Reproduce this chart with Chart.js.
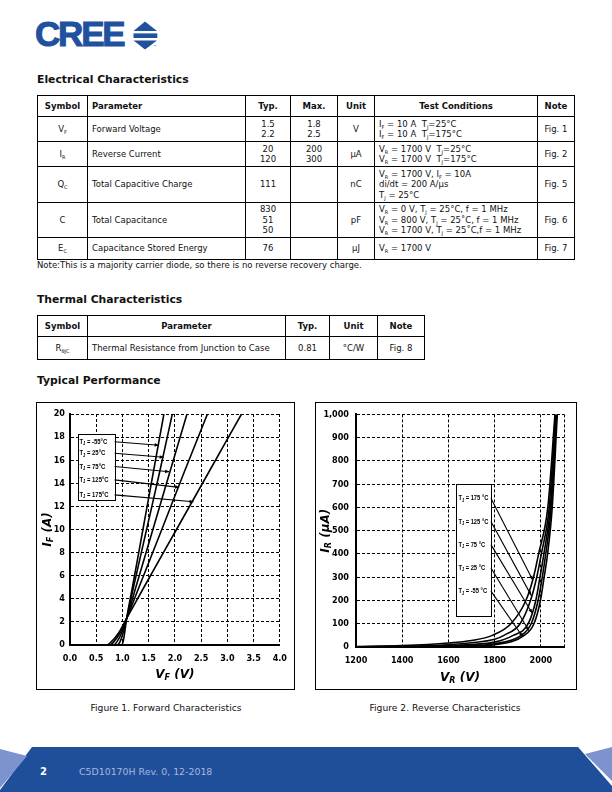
<!DOCTYPE html>
<html>
<head>
<meta charset="utf-8">
<script src="https://cdn.jsdelivr.net/npm/chart.js@4/dist/chart.umd.min.js"></script>
<style>
*{box-sizing:border-box;}
html,body{margin:0;padding:0;background:#fff;}
body{width:612px;height:792px;position:relative;overflow:hidden;font-family:"DejaVu Sans",Verdana,sans-serif;color:#111;}
.h{position:absolute;left:37px;margin:0;font-size:10.8px;font-weight:bold;line-height:13px;white-space:nowrap;color:#111;}
table.t{position:absolute;border-collapse:collapse;table-layout:fixed;font-size:8.5px;}
table.t td,table.t th{border:1px solid #000;padding:0 4px;line-height:10.5px;white-space:nowrap;overflow:hidden;}
table.t th{font-weight:bold;}
.c{text-align:center;}
.l{text-align:left;}
sub{font-size:5px;vertical-align:-1.5px;line-height:0;}
.frame{position:absolute;border:1px solid #000;}
.frame canvas{position:absolute;left:-1px;top:-1px;}
.cap{position:absolute;font-size:9.2px;white-space:nowrap;transform:translateX(-50%);line-height:11px;}
.note{position:absolute;left:37px;top:260px;font-size:8.5px;line-height:11px;white-space:nowrap;}
</style>
</head>
<body>
<!-- Logo -->
<div style="position:absolute;left:35px;top:14px;font-family:'Liberation Sans',Arial,sans-serif;font-weight:bold;font-size:35px;line-height:40px;letter-spacing:-2.2px;color:#1f519f;-webkit-text-stroke:1px #1f519f;">CREE</div>
<svg style="position:absolute;left:0;top:0" width="200" height="60">
  <polygon points="133.5,31 145,21.5 157,31" fill="#1f519f"/>
  <rect x="133.5" y="33.4" width="23.8" height="4.6" fill="#1f519f"/>
  <polygon points="133.5,40.6 157,40.6 145,49.5" fill="#1f519f"/>
</svg>
<div style="position:absolute;left:153px;top:44px;font-size:4px;line-height:5px;color:#1f519f;">™</div>

<div class="h" style="top:73px;">Electrical Characteristics</div>

<table class="t" style="left:37px;top:95px;width:537px;">
<colgroup><col style="width:50px"><col style="width:158px"><col style="width:45px"><col style="width:47px"><col style="width:37px"><col style="width:163px"><col style="width:37px"></colgroup>
<tr style="height:21px"><th class="c">Symbol</th><th class="l">Parameter</th><th class="c">Typ.</th><th class="c">Max.</th><th class="c">Unit</th><th class="c">Test Conditions</th><th class="c">Note</th></tr>
<tr style="height:25px"><td class="c">V<sub>F</sub></td><td>Forward Voltage</td><td class="c">1.5<br>2.2</td><td class="c">1.8<br>2.5</td><td class="c">V</td><td>I<sub>F</sub> = 10 A&nbsp; T<sub>J</sub>=25°C<br>I<sub>F</sub> = 10 A&nbsp; T<sub>J</sub>=175°C</td><td class="c">Fig. 1</td></tr>
<tr style="height:25px"><td class="c">I<sub>R</sub></td><td>Reverse Current</td><td class="c">20<br>120</td><td class="c">200<br>300</td><td class="c">µA</td><td>V<sub>R</sub> = 1700 V&nbsp; T<sub>J</sub>=25°C<br>V<sub>R</sub> = 1700 V&nbsp; T<sub>J</sub>=175°C</td><td class="c">Fig. 2</td></tr>
<tr style="height:36px"><td class="c">Q<sub>C</sub></td><td>Total Capacitive Charge</td><td class="c">111</td><td class="c"></td><td class="c">nC</td><td>V<sub>R</sub> = 1700 V, I<sub>F</sub> = 10A<br>di/dt = 200 A/µs<br>T<sub>J</sub> = 25°C</td><td class="c">Fig. 5</td></tr>
<tr style="height:35px"><td class="c">C</td><td>Total Capacitance</td><td class="c">830<br>51<br>50</td><td class="c"></td><td class="c">pF</td><td>V<sub>R</sub> = 0 V, T<sub>J</sub> = 25°C, f = 1 MHz<br>V<sub>R</sub> = 800 V, T<sub>J</sub> = 25˚C, f = 1 MHz<br>V<sub>R</sub> = 1700 V, T<sub>J</sub> = 25˚C,f = 1 MHz</td><td class="c">Fig. 6</td></tr>
<tr style="height:22px"><td class="c">E<sub>C</sub></td><td>Capacitance Stored Energy</td><td class="c">76</td><td class="c"></td><td class="c">µJ</td><td>V<sub>R</sub> = 1700 V</td><td class="c">Fig. 7</td></tr>
</table>
<div class="note">Note:This is a majority carrier diode, so there is no reverse recovery charge.</div>

<div class="h" style="top:293px;">Thermal Characteristics</div>
<table class="t" style="left:37px;top:315px;width:387px;">
<colgroup><col style="width:50px"><col style="width:198px"><col style="width:44px"><col style="width:48px"><col style="width:47px"></colgroup>
<tr style="height:21px"><th class="c">Symbol</th><th class="c">Parameter</th><th class="c">Typ.</th><th class="c">Unit</th><th class="c">Note</th></tr>
<tr style="height:23px"><td class="c">R<sub>θJC</sub></td><td>Thermal Resistance from Junction to Case</td><td class="c">0.81</td><td class="c">°C/W</td><td class="c">Fig. 8</td></tr>
</table>

<div class="h" style="top:374px;">Typical Performance</div>

<div class="frame" style="left:36px;top:402px;width:259px;height:288px;"><canvas id="fwd" width="259" height="288"></canvas></div>
<div class="frame" style="left:315px;top:402px;width:262px;height:288px;"><canvas id="rev" width="262" height="288"></canvas></div>

<div class="cap" style="left:166px;top:702px;">Figure 1. Forward Characteristics</div>
<div class="cap" style="left:445px;top:702px;">Figure 2. Reverse Characteristics</div>

<!-- Footer -->
<svg style="position:absolute;left:0;top:740px" width="612" height="52">
  <polygon points="32,7 578,7 612,46 612,52 0,52 0,50" fill="#1f4f9b"/>
  <polygon points="0,9 27,16 0,48" fill="#7d93cf"/>
  <polygon points="585,14 612,7 612,41" fill="#7d93cf"/>
</svg>
<div style="position:absolute;left:40px;top:766px;font-size:10px;font-weight:bold;color:#fff;line-height:12px;">2</div>
<div style="position:absolute;left:79px;top:766px;font-size:9.4px;color:#a9b6db;line-height:12px;white-space:nowrap;">C5D10170H Rev. 0, 12-2018</div>

<script>
// ===== Figure 1: forward characteristics (I_F in A vs V_F in V) =====
const ifLevels = [0, 0, 0.25, 1, 2.3, 5, 10, 15, 20];
const vfM55 = [0, 0.98, 1.01, 1.04, 1.08, 1.19, 1.39, 1.59, 1.79];
const vf25  = [0, 0.90, 0.95, 1.01, 1.08, 1.21, 1.46, 1.71, 1.95];
const vf75  = [0, 0.83, 0.89, 0.98, 1.08, 1.255, 1.58, 1.905, 2.23];
const vf125 = [0, 0.76, 0.83, 0.95, 1.08, 1.315, 1.75, 2.18, 2.62];
const vf175 = [0, 0.70, 0.78, 0.92, 1.08, 1.41, 2.03, 2.65, 3.27];
const fwdXTicks = [0, 0.5, 1, 1.5, 2, 2.5, 3, 3.5, 4];
const fwdYTicks = [0, 2, 4, 6, 8, 10, 12, 14, 16, 18, 20];
const fwdLabels = ['-55°C', '25°C', '75°C', '125°C', '175°C'];

// ===== Figure 2: reverse characteristics (I_R in µA vs V_R in V) =====
const vr175 = [1200, 1400, 1600, 1700, 1790, 1870, 1935, 1968, 1990, 2030, 2061];
const ir175 = [2, 6, 17, 28, 50, 100, 200, 300, 400, 600, 1000];
const vr125 = [1200, 1400, 1600, 1700, 1800, 1840, 1910, 1955, 1982, 2002, 2036, 2063];
const ir125 = [1, 3, 10, 18, 33, 50, 100, 200, 300, 400, 600, 1000];
const vr75  = [1200, 1400, 1600, 1700, 1800, 1880, 1945, 1978, 1996, 2013, 2041, 2066];
const ir75  = [0.5, 2, 6, 11, 21, 50, 100, 200, 300, 400, 600, 1000];
const vr25  = [1200, 1400, 1600, 1700, 1800, 1915, 1958, 1988, 2006, 2021, 2045, 2068];
const ir25  = [0, 1, 4, 7, 14, 50, 100, 200, 300, 400, 600, 1000];
const vrM55 = [1200, 1400, 1600, 1700, 1800, 1928, 1970, 1998, 2014, 2029, 2049, 2071];
const irM55 = [0, 0.5, 2, 5, 10, 50, 100, 200, 300, 400, 600, 1000];
const revXTicks = [1200, 1400, 1600, 1800, 2000, 2100];
const revYTicks = [0, 100, 200, 300, 400, 500, 600, 700, 800, 900, 1000];
const revLabels = ['175 °C', '125 °C', '75 °C', '25 °C', '-55 °C'];

// Annotation placements (data units of each chart)
const fwdNote = {
  box: [0.15, 18.3, 0.85, 12.55],
  textX: 0.18,
  rowY: [17.6, 16.6, 15.45, 14.3, 13.0],
  tips: [[1.69, 17.3], [1.785, 16.25], [1.89, 15.0], [2.08, 13.65], [2.355, 12.4]]
};
const revNote = {
  box: [1632, 700, 1784, 132],
  textX: 1643,
  rowY: [640, 540, 440, 340, 240],
  tips: [[1964, 289], [1958, 222], [1962, 146], [1948, 71], [1922, 43]]
};

const tickFont = {family: "'Liberation Sans Narrow','DejaVu Sans Condensed','Liberation Sans',sans-serif", size: 9, weight: 'bold'};
const noteFont = "bold 8px 'Liberation Sans',sans-serif";
const noteSub = "bold 5.5px 'Liberation Sans',sans-serif";
const titleFont = "bold italic 12px 'DejaVu Sans',sans-serif";
const titleSub = "bold italic 8px 'DejaVu Sans',sans-serif";

function drawParts(ctx, parts, x, y, font, sub, align, subDy, sx) {
  sx = sx || 1;
  let w = 0;
  parts.forEach(p => { ctx.font = p[1] ? sub : font; w += ctx.measureText(p[0]).width; });
  ctx.save();
  ctx.translate(x, y);
  ctx.scale(sx, 1);
  let cx = align === 'center' ? -w / 2 : 0;
  ctx.textBaseline = 'middle';
  ctx.textAlign = 'left';
  parts.forEach(p => {
    ctx.font = p[1] ? sub : font;
    ctx.fillText(p[0], cx, p[1] ? subDy : 0);
    cx += ctx.measureText(p[0]).width;
  });
  ctx.restore();
  return w * sx;
}

function arrow(ctx, x1, y1, x2, y2, head) {
  ctx.beginPath(); ctx.moveTo(x1, y1); ctx.lineTo(x2, y2); ctx.stroke();
  if (!head) return;
  const a = Math.atan2(y2 - y1, x2 - x1), L = 4, W = 1.8;
  ctx.beginPath();
  ctx.moveTo(x2, y2);
  ctx.lineTo(x2 - L * Math.cos(a) + W * Math.sin(a), y2 - L * Math.sin(a) - W * Math.cos(a));
  ctx.lineTo(x2 - L * Math.cos(a) - W * Math.sin(a), y2 - L * Math.sin(a) + W * Math.cos(a));
  ctx.closePath(); ctx.fill();
}

function decor(id, note, labels, xTitle, yTitle, xOff, yOff, head, noteScale) {
  return {
    id: id,
    afterDraw(chart) {
      const {ctx, chartArea: a, scales: {x, y}} = chart;
      ctx.save();
      ctx.fillStyle = '#000'; ctx.strokeStyle = '#000';
      drawParts(ctx, xTitle, (a.left + a.right) / 2, a.bottom + xOff, titleFont, titleSub, 'center', 3);
      ctx.save();
      ctx.translate(a.left - yOff, (a.top + a.bottom) / 2);
      ctx.rotate(-Math.PI / 2);
      drawParts(ctx, yTitle, 0, 0, titleFont, titleSub, 'center', 3);
      ctx.restore();
      const bx1 = x.getPixelForValue(note.box[0]), by1 = y.getPixelForValue(note.box[1]);
      const bx2 = x.getPixelForValue(note.box[2]), by2 = y.getPixelForValue(note.box[3]);
      ctx.fillStyle = '#fff';
      ctx.fillRect(bx1, by1, bx2 - bx1, by2 - by1);
      ctx.lineWidth = 1;
      ctx.strokeRect(Math.round(bx1) + 0.5, Math.round(by1) + 0.5, Math.round(bx2 - bx1), Math.round(by2 - by1));
      ctx.fillStyle = '#000';
      labels.forEach((t, i) => {
        const ly = y.getPixelForValue(note.rowY[i]);
        drawParts(ctx, [['T', false], ['J', true], [' = ' + t, false]], x.getPixelForValue(note.textX), ly, noteFont, noteSub, 'left', 2, noteScale);
        ctx.lineWidth = 1.1;
        arrow(ctx, bx2, ly, x.getPixelForValue(note.tips[i][0]), y.getPixelForValue(note.tips[i][1]), head);
      });
      ctx.restore();
    }
  };
}

function scaleOpts(min, max, ticksArr, cb, pad, fitProp, fitVal) {
  return {
    type: 'linear', min: min, max: max,
    afterBuildTicks: s => { s.ticks = ticksArr.map(v => ({value: v})); },
    afterFit: s => { s[fitProp] = fitVal; },
    ticks: {callback: cb, padding: pad, font: tickFont, color: '#000', autoSkip: false, maxRotation: 0, minRotation: 0},
    grid: {color: '#000', lineWidth: 1, drawTicks: false},
    border: {display: true, color: '#000', width: 2, dash: [3, 2]}
  };
}

function lineSet(xs, ys) {
  return {
    data: xs.map((v, i) => ({x: v, y: ys[i]})),
    borderColor: '#000', borderWidth: 1.6, pointRadius: 0, fill: false,
    cubicInterpolationMode: 'monotone'
  };
}

const common = {
  responsive: false, animation: false, devicePixelRatio: 1,
  plugins: {legend: {display: false}, tooltip: {enabled: false}}
};

new Chart(document.getElementById('fwd'), {
  type: 'line',
  data: {datasets: [vfM55, vf25, vf75, vf125, vf175].map(v => lineSet(v, ifLevels))},
  options: Object.assign({}, common, {
    layout: {padding: {top: 12, right: 10, left: 0, bottom: 0}},
    scales: {
      x: scaleOpts(0, 4, fwdXTicks, v => v.toFixed(1), 8, 'height', 45),
      y: scaleOpts(0, 20, fwdYTicks, v => String(v), 5, 'width', 34)
    }
  }),
  plugins: [decor('fwdDecor', fwdNote, fwdLabels, [['V', false], ['F', true], [' (V)', false]], [['I', false], ['F', true], [' (A)', false]], 30, 22, true, 0.74)]
});

new Chart(document.getElementById('rev'), {
  type: 'line',
  data: {datasets: [
    lineSet(vr175, ir175), lineSet(vr125, ir125), lineSet(vr75, ir75), lineSet(vr25, ir25), lineSet(vrM55, irM55)
  ]},
  options: Object.assign({}, common, {
    layout: {padding: {top: 11, right: 13, left: 0, bottom: 0}},
    scales: {
      x: scaleOpts(1200, 2100, revXTicks, v => (v === 2100 ? '' : String(v)), 8, 'height', 43),
      y: scaleOpts(0, 1000, revYTicks, v => v.toLocaleString('en-US'), 7, 'width', 41)
    }
  }),
  plugins: [decor('revDecor', revNote, revLabels, [['V', false], ['R', true], [' (V)', false]], [['I', false], ['R', true], [' (µA)', false]], 31, 30, true, 0.72)]
});
</script>
</body>
</html>
